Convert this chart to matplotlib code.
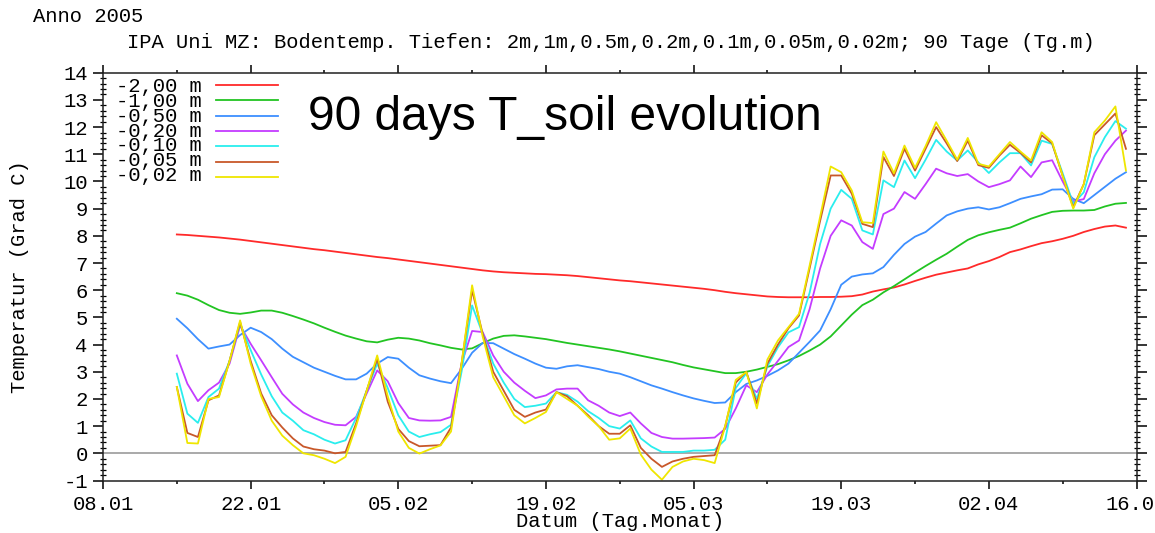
import numpy as np
import pandas as pd
import matplotlib
matplotlib.use("Agg")
import matplotlib.pyplot as plt
import matplotlib.dates as mdates
from matplotlib.ticker import MultipleLocator

# Daily soil temperatures (deg C), 15.01.2005 - 15.04.2005
dates = pd.date_range("2005-01-15", periods=91, freq="D")

t_200 = [8.05, 8.03, 8.00, 7.97, 7.94, 7.90, 7.86, 7.81, 7.76, 7.71,
         7.66, 7.61, 7.56, 7.51, 7.47, 7.42, 7.37, 7.32, 7.27, 7.22,
         7.18, 7.13, 7.08, 7.03, 6.98, 6.93, 6.88, 6.83, 6.78, 6.73,
         6.69, 6.66, 6.64, 6.62, 6.60, 6.59, 6.57, 6.55, 6.52, 6.48,
         6.44, 6.40, 6.36, 6.33, 6.29, 6.25, 6.21, 6.17, 6.13, 6.09,
         6.05, 6.00, 5.94, 5.89, 5.85, 5.81, 5.77, 5.75, 5.74, 5.74,
         5.74, 5.75, 5.75, 5.76, 5.78, 5.84, 5.95, 6.03, 6.10, 6.21,
         6.34, 6.46, 6.57, 6.65, 6.73, 6.80, 6.95, 7.07, 7.22, 7.40,
         7.50, 7.62, 7.73, 7.80, 7.89, 8.00, 8.14, 8.25, 8.34, 8.38,
         8.30]

t_100 = [5.89, 5.80, 5.65, 5.45, 5.27, 5.17, 5.13, 5.18, 5.25, 5.25,
         5.17, 5.05, 4.92, 4.78, 4.62, 4.47, 4.33, 4.22, 4.12, 4.08,
         4.18, 4.25, 4.22, 4.15, 4.05, 3.97, 3.88, 3.82, 3.86, 4.05,
         4.22, 4.32, 4.34, 4.30, 4.25, 4.20, 4.13, 4.06, 4.00, 3.94,
         3.88, 3.82, 3.75, 3.67, 3.59, 3.51, 3.43, 3.35, 3.25, 3.16,
         3.09, 3.02, 2.95, 2.95, 3.00, 3.08, 3.18, 3.28, 3.42, 3.58,
         3.78, 4.00, 4.30, 4.70, 5.10, 5.45, 5.65, 5.92, 6.15, 6.40,
         6.65, 6.89, 7.12, 7.34, 7.60, 7.85, 8.02, 8.13, 8.22, 8.30,
         8.46, 8.63, 8.76, 8.88, 8.92, 8.93, 8.93, 8.95, 9.08, 9.18,
         9.21]

t_050 = [4.95, 4.60, 4.20, 3.85, 3.93, 4.00, 4.35, 4.62, 4.46, 4.20,
         3.85, 3.55, 3.35, 3.15, 3.00, 2.85, 2.72, 2.72, 2.93, 3.30,
         3.54, 3.48, 3.15, 2.87, 2.75, 2.65, 2.58, 3.10, 3.70, 4.06,
         4.05, 3.85, 3.65, 3.48, 3.30, 3.15, 3.11, 3.20, 3.24, 3.17,
         3.10, 3.00, 2.93, 2.80, 2.65, 2.50, 2.38, 2.25, 2.13, 2.02,
         1.93, 1.85, 1.87, 2.25, 2.55, 2.68, 2.85, 3.05, 3.30, 3.70,
         4.10, 4.52, 5.30, 6.20, 6.50, 6.58, 6.62, 6.85, 7.30, 7.70,
         7.97, 8.14, 8.45, 8.75, 8.90, 9.00, 9.05, 8.97, 9.05, 9.20,
         9.36, 9.45, 9.53, 9.70, 9.71, 9.36, 9.20, 9.50, 9.80, 10.10,
         10.34]

t_020 = [3.60, 2.56, 1.92, 2.32, 2.60, 3.30, 4.70, 4.03, 3.42, 2.80,
         2.19, 1.80, 1.50, 1.30, 1.15, 1.05, 1.03, 1.34, 2.20, 3.05,
         2.65, 1.85, 1.30, 1.21, 1.20, 1.21, 1.34, 3.30, 4.50, 4.46,
         3.60, 3.00, 2.60, 2.30, 2.03, 2.13, 2.35, 2.38, 2.38, 1.95,
         1.75, 1.50, 1.37, 1.50, 1.10, 0.75, 0.60, 0.54, 0.54, 0.55,
         0.56, 0.58, 0.90, 1.65, 2.50, 2.25, 2.90, 3.40, 3.91, 4.15,
         5.30, 6.80, 8.00, 8.57, 8.38, 7.77, 7.52, 8.80, 9.00, 9.61,
         9.36, 9.90, 10.47, 10.30, 10.20, 10.27, 10.00, 9.79, 9.90, 10.04,
         10.55, 10.16, 10.70, 10.78, 10.00, 9.27, 9.35, 10.30, 11.00, 11.50,
         11.87]

t_010 = [2.93, 1.46, 1.12, 2.07, 2.38, 3.40, 4.77, 3.80, 2.90, 2.10,
         1.50, 1.20, 0.85, 0.70, 0.50, 0.36, 0.48, 1.30, 2.30, 3.30,
         2.40, 1.40, 0.80, 0.60, 0.70, 0.78, 1.05, 3.00, 5.44, 4.40,
         3.30, 2.60, 2.00, 1.70, 1.75, 1.83, 2.25, 2.15, 1.90, 1.55,
         1.30, 1.00, 0.91, 1.21, 0.55, 0.25, 0.05, 0.05, 0.05, 0.10,
         0.10, 0.13, 0.50, 2.40, 2.95, 2.00, 3.20, 3.90, 4.45, 4.64,
         5.90, 7.70, 9.00, 9.69, 9.36, 8.20, 8.05, 10.04, 9.79, 10.77,
         10.12, 10.80, 11.53, 11.10, 10.77, 11.14, 10.70, 10.31, 10.70, 11.04,
         11.04, 10.59, 11.50, 11.38, 10.30, 9.18, 9.60, 10.89, 11.63, 12.22,
         11.94]

t_005 = [2.44, 0.75, 0.60, 1.95, 2.13, 3.40, 4.83, 3.40, 2.20, 1.40,
         0.95, 0.55, 0.25, 0.15, 0.10, 0.00, 0.05, 1.10, 2.30, 3.48,
         1.90, 0.90, 0.45, 0.26, 0.28, 0.30, 0.95, 3.30, 6.00, 4.40,
         3.00, 2.30, 1.60, 1.34, 1.50, 1.61, 2.25, 2.10, 1.75, 1.40,
         1.00, 0.72, 0.72, 1.03, 0.20, -0.20, -0.50, -0.30, -0.20, -0.13,
         -0.10, -0.07, 1.00, 2.60, 3.00, 1.83, 3.30, 4.00, 4.60, 5.07,
         6.80, 8.55, 10.22, 10.22, 9.55, 8.44, 8.32, 10.90, 10.20, 11.20,
         10.40, 11.20, 12.00, 11.40, 10.75, 11.50, 10.60, 10.50, 10.95, 11.35,
         11.05, 10.70, 11.70, 11.40, 10.20, 9.05, 9.90, 11.70, 12.10, 12.50,
         11.20]

t_002 = [2.44, 0.38, 0.36, 2.00, 2.07, 3.40, 4.89, 3.30, 2.10, 1.20,
         0.65, 0.30, 0.00, -0.07, -0.20, -0.36, -0.13, 1.00, 2.30, 3.60,
         2.10, 0.80, 0.20, -0.01, 0.15, 0.29, 0.80, 3.30, 6.18, 4.30,
         2.80, 2.10, 1.40, 1.10, 1.30, 1.52, 2.25, 2.00, 1.75, 1.35,
         1.00, 0.50, 0.55, 0.91, -0.05, -0.60, -0.97, -0.50, -0.30, -0.20,
         -0.25, -0.36, 1.00, 2.70, 2.99, 1.65, 3.45, 4.15, 4.64, 5.13,
         6.90, 8.70, 10.55, 10.34, 9.67, 8.50, 8.47, 11.10, 10.30, 11.32,
         10.50, 11.30, 12.18, 11.50, 10.80, 11.60, 10.65, 10.55, 11.00, 11.45,
         11.10, 10.77, 11.81, 11.45, 10.20, 9.00, 9.90, 11.81, 12.24, 12.76,
         10.40]

depth_labels = ["-2,00 m", "-1,00 m", "-0,50 m", "-0,20 m",
                "-0,10 m", "-0,05 m", "-0,02 m"]
line_colors = ["#ff2a2a", "#22c422", "#3d8fff", "#c43cff",
               "#2aeeee", "#c8582a", "#efe600"]
series = [t_200, t_100, t_050, t_020, t_010, t_005, t_002]

MONO = "Liberation Mono"
FS = 14.8
plt.rcParams["font.family"] = MONO
plt.rcParams["axes.unicode_minus"] = False

W, H = 1155, 533
fig = plt.figure(figsize=(W / 100, H / 100), dpi=100)
x0, x1, y_top, y_bot = 103, 1136.5, 72.7, 480.5
ax = fig.add_axes([x0 / W, 1 - y_bot / H, (x1 - x0) / W, (y_bot - y_top) / H])

ax.axhline(0, color="#a9a9a9", lw=1.4, zorder=1)
for vals, col in zip(series, line_colors):
    ax.plot(dates, vals, color=col, lw=1.3, zorder=2)

ax.set_xlim(pd.Timestamp("2005-01-08"), pd.Timestamp("2005-04-16"))
ax.set_ylim(-1, 14)
ax.set_xticks(pd.date_range("2005-01-08", "2005-04-16", freq="14D"))
ax.set_xticks(pd.date_range("2005-01-08", "2005-04-16", freq="7D"), minor=True)
ax.xaxis.set_major_formatter(mdates.DateFormatter("%d.%m"))
ax.yaxis.set_major_locator(MultipleLocator(1))
ax.yaxis.set_minor_locator(MultipleLocator(0.2))

for sp in ax.spines.values():
    sp.set_linewidth(1.1)
    sp.set_color("#202020")

ax.tick_params(axis="x", which="major", direction="out", length=5.5, width=1.1,
               top=True, bottom=True, pad=5, labelsize=FS)
ax.tick_params(axis="x", which="minor", direction="out", length=2.5, width=1.1,
               top=True, bottom=True)
ax.tick_params(axis="y", which="major", direction="out", length=7, width=1.1,
               left=True, right=True, pad=4, labelsize=FS)
ax.tick_params(axis="y", which="minor", direction="inout", length=5, width=0.9,
               left=True, right=True)

ax.set_xlabel("Datum (Tag.Monat)", fontsize=FS)
ax.xaxis.set_label_coords(0.5, (y_bot - 512) / (y_bot - y_top))
ax.set_ylabel("Temperatur (Grad C)", fontsize=FS)
ax.yaxis.set_label_coords((29 - x0) / (x1 - x0), 0.5)

# depth key in the upper-left corner: one text block plus a colour stroke per row
row0, row_step = 0.9698, 0.0376
ax.text(0.0126, row0 - 3 * row_step, "\n".join(depth_labels),
        transform=ax.transAxes, ha="left", va="center", fontsize=FS,
        linespacing=0.73)
for k, col in enumerate(line_colors):
    yk = row0 - k * row_step
    ax.plot([0.1093, 0.1693], [yk, yk], transform=ax.transAxes, color=col,
            lw=1.3, zorder=3)

fig.text(33 / W, 1 - 16 / H, "Anno 2005", ha="left", va="center", fontsize=FS)
fig.text(611 / W, 1 - 42 / H,
         "IPA Uni MZ: Bodentemp. Tiefen: 2m,1m,0.5m,0.2m,0.1m,0.05m,0.02m; 90 Tage (Tg.m)",
         ha="center", va="center", fontsize=FS)
fig.text(308 / W, 1 - 130 / H, "90 days T_soil evolution", ha="left",
         va="baseline", fontsize=34.5, family="Liberation Sans")

fig.savefig("out.png", dpi=100)
